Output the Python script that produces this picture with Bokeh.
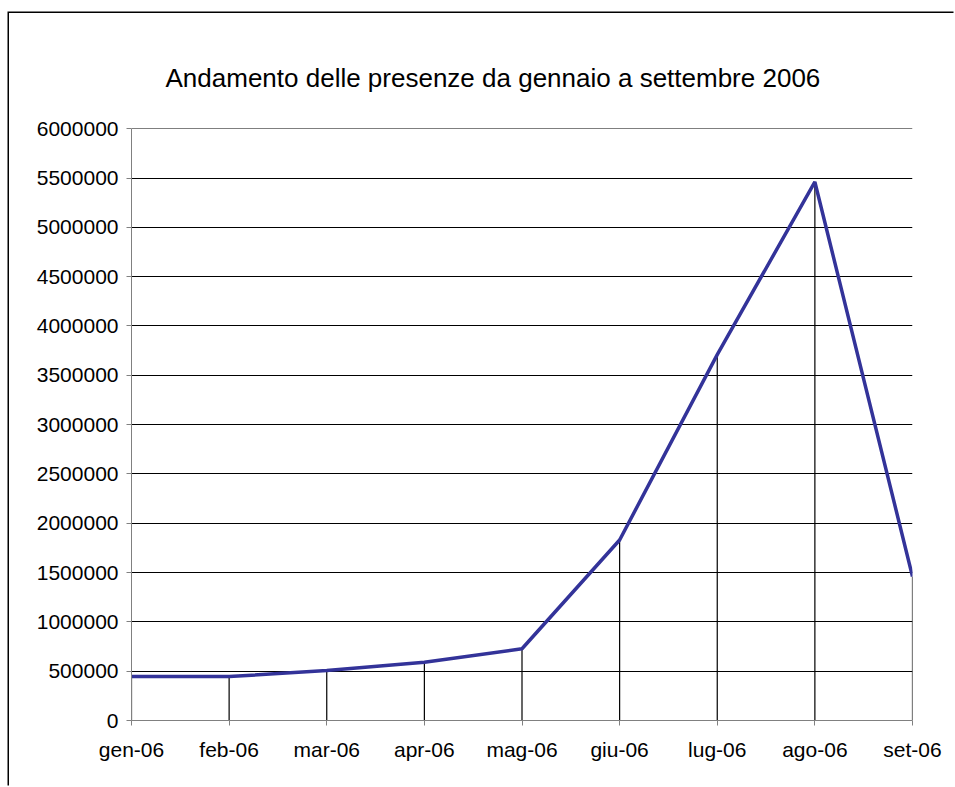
from bokeh.plotting import figure
from bokeh.models import FixedTicker, BasicTickFormatter
from bokeh.embed import file_html
from bokeh.resources import INLINE

months = ["gen-06", "feb-06", "mar-06", "apr-06", "mag-06", "giu-06", "lug-06", "ago-06", "set-06"]
presenze = [445000, 445000, 507000, 590000, 727000, 1830000, 3710000, 5460000, 1460000]
y_ticks = [0, 500000, 1000000, 1500000, 2000000, 2500000, 3000000, 3500000,
           4000000, 4500000, 5000000, 5500000, 6000000]
title_text = "Andamento delle presenze da gennaio a settembre 2006"

xs = list(range(len(months)))
FONT = "Liberation Sans"

p = figure(output_backend="svg", toolbar_location=None,
           frame_width=781, frame_height=592,
           min_border_left=122, min_border_top=115, min_border_right=43, min_border_bottom=67,
           x_range=(0, len(months) - 1), y_range=(0, 6002000))
# chart-area border: only left and top edges are visible in the reference
p.styles = {"position": "relative", "left": "9px", "top": "13px",
            "box-shadow": "-1.5px -1.5px 0 0 black"}
p.outline_line_color = None
p.background_fill_color = "white"
p.border_fill_color = "white"

p.title.text = title_text
p.title.align = "left"
p.title.offset = 34
p.title.standoff = 71
p.title.text_font = FONT
p.title.text_font_size = "26px"
p.title.text_font_style = "normal"
p.title.text_color = "black"

# grid
p.xgrid.grid_line_color = None
p.ygrid.grid_line_color = "black"
p.ygrid.grid_line_width = 1
p.ygrid.ticker = FixedTicker(ticks=y_ticks)

# axes
p.xaxis.ticker = FixedTicker(ticks=xs)
p.xaxis.major_label_overrides = {i: m for i, m in enumerate(months)}
p.yaxis.ticker = FixedTicker(ticks=y_ticks)
p.yaxis.formatter = BasicTickFormatter(use_scientific=False)
for ax in (p.xaxis, p.yaxis):
    ax.axis_line_color = "#808080"
    ax.major_tick_line_color = "#808080"
    ax.major_tick_in = 0
    ax.major_tick_out = 5
    ax.minor_tick_line_color = None
    ax.major_label_text_font = FONT
    ax.major_label_text_font_size = "21px"
    ax.major_label_text_color = "black"
p.xaxis.major_label_standoff = 12
p.yaxis.major_label_standoff = 8

# drop lines
p.segment(x0=xs, y0=[0] * len(xs), x1=xs, y1=presenze, line_color="black", line_width=1.2)
# series line
p.line(xs, presenze, line_color="#333399", line_width=3.5)

open("out.html", "w").write(file_html(p, INLINE))
